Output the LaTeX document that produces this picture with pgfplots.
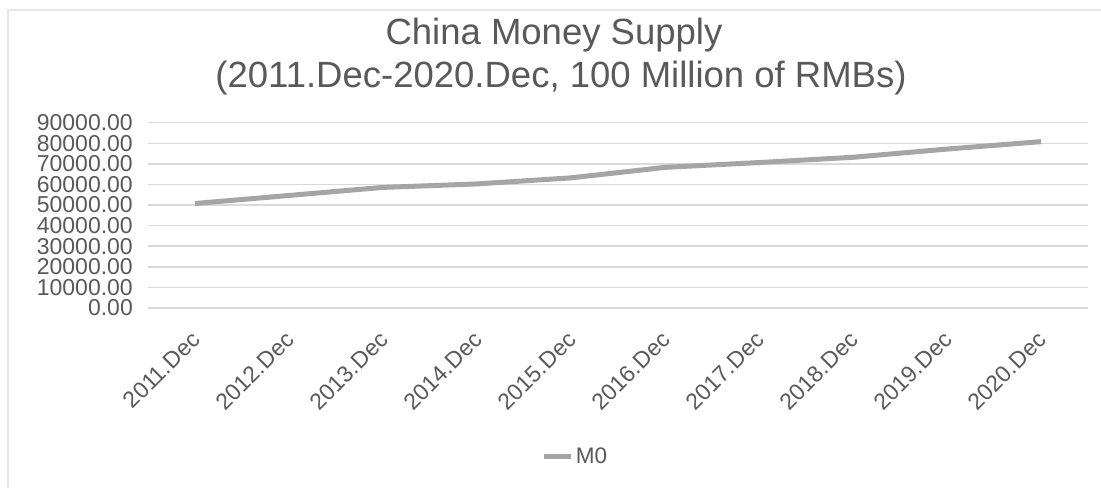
\documentclass[border=0pt]{standalone}
\usepackage{pgfplots}
\pgfplotsset{compat=1.18}
\usepackage{fontspec}
\setmainfont{Liberation Sans}
\definecolor{txt}{HTML}{595959}
\definecolor{gridc}{HTML}{D9D9D9}
\definecolor{ser}{HTML}{A5A5A5}
\definecolor{framec}{HTML}{E6E6E6}
\begin{document}
\begin{tikzpicture}[x=1pt,y=1pt]
\path[use as bounding box] (0,0) rectangle (1101,488);
\fill[white] (0,0) rectangle (1101,488);
\draw[framec, line width=1.5pt] (8,0) -- (8,478) -- (1101,478);
\node[anchor=base, text=txt, font=\fontsize{36.5}{40}\selectfont] at (554,443) {China Money Supply};
\node[anchor=base, text=txt, font=\fontsize{36.5}{40}\selectfont] at (561,400) {(2011.Dec-2020.Dec, 100 Million of RMBs)};
\begin{axis}[
  at={(148pt,180pt)}, anchor=south west,
  width=940pt, height=185.3pt, scale only axis,
  xmin=0, xmax=10, ymin=0, ymax=90000,
  axis line style={draw=none},
  major tick length=0pt,
  ymajorgrids=true, xmajorgrids=false,
  major grid style={draw=gridc, line width=1.5pt},
  ytick={0,10000,...,90000},
  /pgf/number format/fixed, /pgf/number format/fixed zerofill,
  /pgf/number format/precision=2, /pgf/number format/1000 sep={},
  /pgf/number format/assume math mode=true,
  scaled y ticks=false,
  yticklabel style={text=txt, font=\fontsize{23}{23}\selectfont, anchor=east, inner sep=0pt, xshift=-15pt},
  xtick={0.5,1.5,...,9.5},
  xticklabels={2011.Dec,2012.Dec,2013.Dec,2014.Dec,2015.Dec,2016.Dec,2017.Dec,2018.Dec,2019.Dec,2020.Dec},
  xticklabel style={text=txt, font=\fontsize{23}{23}\selectfont, rotate=45, anchor=north east, inner sep=0pt, xshift=-19pt, yshift=-12pt},
  legend style={at={(0.4548,-0.7987)}, anchor=center, draw=none, fill=none, font=\fontsize{22.5}{22.5}\selectfont, text=txt, inner sep=0pt},
  legend image code/.code={\draw[#1] (0pt,0pt) -- (27pt,0pt);},
  legend cell align=left,
  clip=false,
]
\draw[gridc, line width=1.5pt] (axis cs:0,0) -- (axis cs:10,0);
\addplot[ser, line width=5pt, line join=round] coordinates {
 (0.5,50748) (1.5,54660) (2.5,58574) (3.5,60260) (4.5,63217)
 (5.5,68304) (6.5,70646) (7.5,73208) (8.5,77189) (9.5,80800)
};
\addlegendentry{M0}
\end{axis}
\end{tikzpicture}
\end{document}
